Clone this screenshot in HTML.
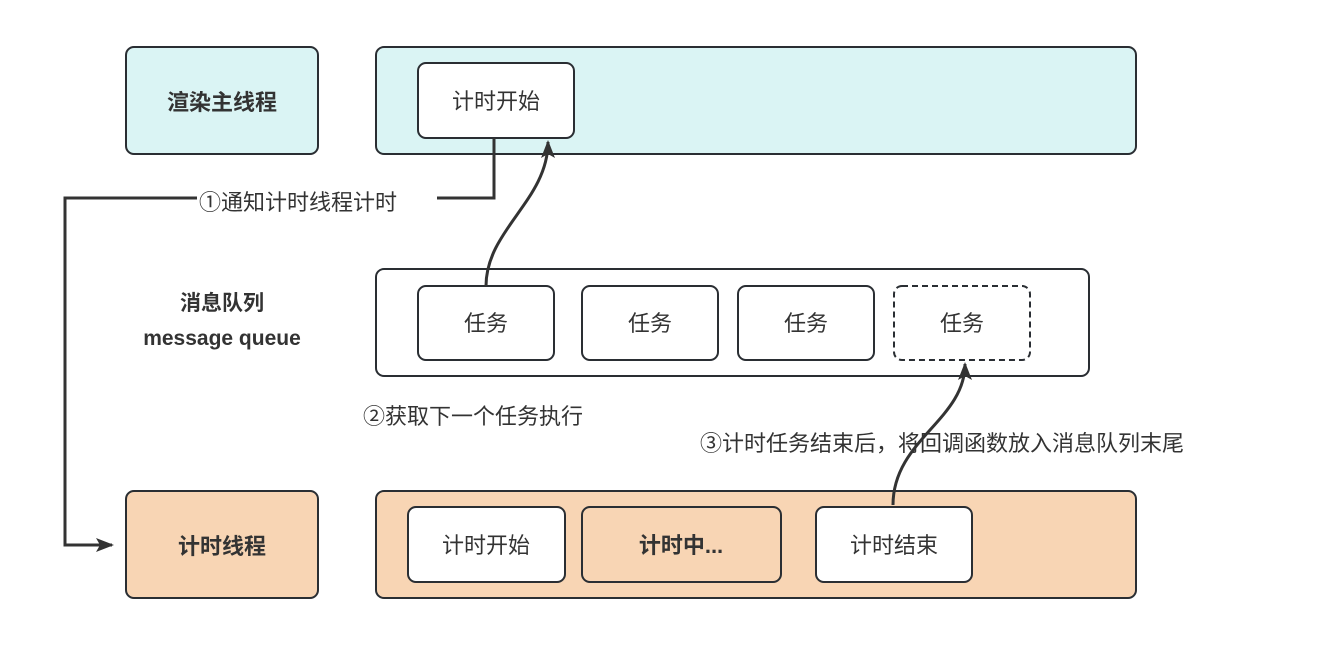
<!DOCTYPE html>
<html><head><meta charset="utf-8"><style>
html,body{margin:0;padding:0;background:#fff;}
svg text{font-family:"Liberation Sans","Noto Sans CJK SC",sans-serif;fill:#333;}
</style></head><body>
<svg width="1325" height="643" xmlns="http://www.w3.org/2000/svg">
<defs><marker id="a" markerWidth="10" markerHeight="10" refX="8" refY="5" orient="auto" markerUnits="userSpaceOnUse"><path d="M0,0 L10,5 L0,10 Z" fill="#333"/></marker>
<marker id="b" markerWidth="18" markerHeight="14" refX="16" refY="7" orient="auto" markerUnits="userSpaceOnUse"><path d="M0,0 L18,7 L0,14 L4,7 Z" fill="#333"/></marker></defs>
<g stroke="#2a2e33" stroke-width="2">
<rect x="126" y="47" width="192" height="107" rx="8" fill="#daf4f4"/>
<rect x="376" y="47" width="760" height="107" rx="8" fill="#daf4f4"/>
<rect x="418" y="63" width="156" height="75" rx="8" fill="#fff"/>
<rect x="376" y="269" width="713" height="107" rx="8" fill="#fff"/>
<rect x="418" y="286" width="136" height="74" rx="8" fill="#fff"/>
<rect x="582" y="286" width="136" height="74" rx="8" fill="#fff"/>
<rect x="738" y="286" width="136" height="74" rx="8" fill="#fff"/>
<rect x="894" y="286" width="136" height="74" rx="8" fill="#fff" stroke-dasharray="6,4"/>
<rect x="126" y="491" width="192" height="107" rx="8" fill="#f8d5b4"/>
<rect x="376" y="491" width="760" height="107" rx="8" fill="#f8d5b4"/>
<rect x="408" y="507" width="157" height="75" rx="8" fill="#fff"/>
<rect x="582" y="507" width="199" height="75" rx="8" fill="#f8d5b4"/>
<rect x="816" y="507" width="156" height="75" rx="8" fill="#fff"/>
</g>
<g stroke="#333" stroke-width="3" fill="none">
<path d="M494,138 V198 H65 V545 H112" marker-end="url(#b)"/>
<path d="M486,286 C486,230 548,200 548,142" marker-end="url(#b)"/>
<path d="M893,505 C893,440 965,420 965,364" marker-end="url(#b)"/>
</g>
<rect x="197" y="188" width="240" height="28" fill="#fff"/>
<g font-size="22">
<text x="222" y="110" text-anchor="middle" font-weight="bold">渲染主线程</text>
<text x="496" y="109" text-anchor="middle">计时开始</text>
<text x="222" y="310" text-anchor="middle" font-weight="bold" font-size="21">消息队列</text>
<text x="222" y="345" text-anchor="middle" font-weight="bold" font-size="21">message queue</text>
<text x="486" y="331" text-anchor="middle">任务</text>
<text x="650" y="331" text-anchor="middle">任务</text>
<text x="806" y="331" text-anchor="middle">任务</text>
<text x="962" y="331" text-anchor="middle">任务</text>
<text x="222" y="554" text-anchor="middle" font-weight="bold">计时线程</text>
<text x="486" y="553" text-anchor="middle">计时开始</text>
<text x="681" y="553" text-anchor="middle" font-weight="bold">计时中...</text>
<text x="894" y="553" text-anchor="middle">计时结束</text>
<text x="199" y="210">①通知计时线程计时</text>
<text x="363" y="424">②获取下一个任务执行</text>
<text x="700" y="451">③计时任务结束后，将回调函数放入消息队列末尾</text>
</g>
</svg>
</body></html>
